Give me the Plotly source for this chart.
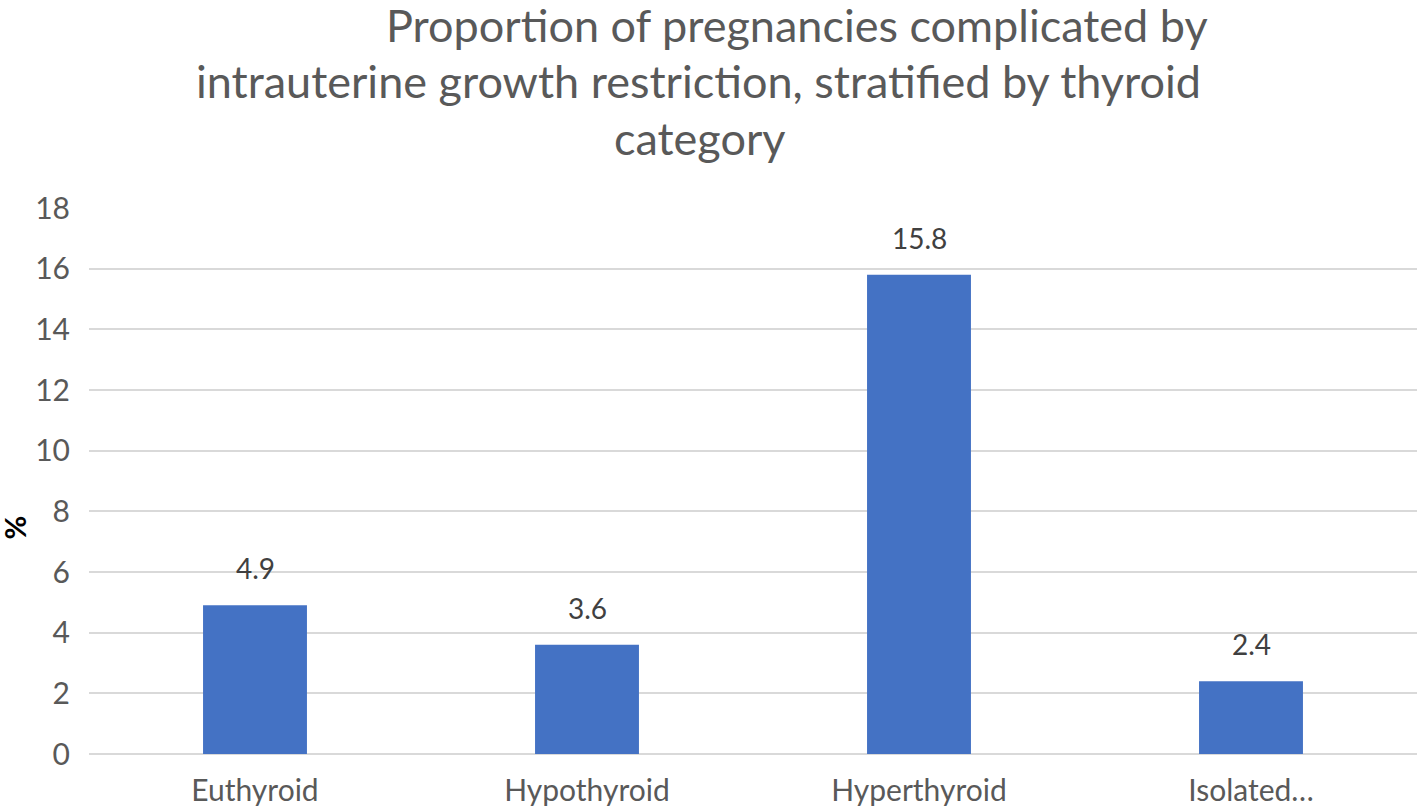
import plotly.graph_objects as go

categories = ["Euthyroid", "Hypothyroid", "Hyperthyroid", "Isolated…"]
values = [4.9, 3.6, 15.8, 2.4]
value_labels = ["4.9", "3.6", "15.8", "2.4"]
y_ticks = [0, 2, 4, 6, 8, 10, 12, 14, 16, 18]

FONT = "Lato, Carlito, Calibri, sans-serif"

fig = go.Figure()
fig.add_trace(go.Bar(
    x=categories, y=values, marker=dict(color="#4472C4", line=dict(width=0)),
    width=0.313, hoverinfo="skip",
))

for c, v, t in zip(categories, values, value_labels):
    fig.add_annotation(x=c, y=v, text=t, showarrow=False, yshift=37,
                       font=dict(family=FONT, size=28, color="#404040"))

fig.add_annotation(xref="paper", yref="paper", x=-0.0565, y=0.415, text="<b>%</b>",
                   textangle=-90, showarrow=False, xanchor="center", yanchor="middle",
                   font=dict(family=FONT, size=29, color="#000000"))

title_lines = [
    ("Proportion of pregnancies complicated by", 0.533, 1.336),
    ("intrauterine growth restriction, stratified by thyroid", 0.459, 1.232),
    ("category", 0.460, 1.129),
]
for txt, xp, yp in title_lines:
    fig.add_annotation(xref="paper", yref="paper", x=xp, y=yp, text=txt,
                       showarrow=False, xanchor="center", yanchor="middle",
                       font=dict(family=FONT, size=45, color="#595959"))

fig.update_layout(
    width=1417, height=810,
    margin=dict(l=89, r=0, t=208, b=56),
    paper_bgcolor="white", plot_bgcolor="white",
    showlegend=False, bargap=0.687,
    font=dict(family=FONT),
    xaxis=dict(range=[-0.5, 3.5], showgrid=False, showline=False, zeroline=False,
               ticks="", ticklabelstandoff=16,
               tickfont=dict(family=FONT, size=30, color="#595959")),
    yaxis=dict(range=[0, 18], tickvals=y_ticks, showgrid=True, gridcolor="#D9D9D9",
               gridwidth=1.5, zeroline=True, zerolinecolor="#D9D9D9", zerolinewidth=1.5,
               showline=False, ticks="", ticklabelstandoff=18,
               tickfont=dict(family=FONT, size=30, color="#595959")),
)

fig.write_html(
    "out.html",
    config={"displayModeBar": False},
    post_script="document.body.style.margin='0';document.body.style.overflow='hidden';",
)
